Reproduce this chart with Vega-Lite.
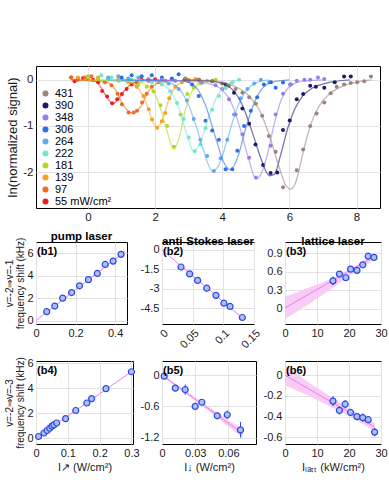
{
  "$schema": "https://vega.github.io/schema/vega-lite/v6.json",
  "padding": {"left": 3, "top": 65, "right": 2, "bottom": 5},
  "spacing": 7,
  "resolve": {"legend": {"color": "independent"}},
  "config": {
    "font": "Liberation Sans",
    "locale": {"number": {"decimal": ".", "thousands": ",", "grouping": [3], "currency": ["$", ""], "minus": "-"}},
    "view": {"stroke": "#000", "strokeWidth": 1},
    "axis": {"grid": true, "gridColor": "#e2e2e2", "domain": false, "ticks": false, "labelFontSize": 11, "labelColor": "#1a1a1a", "titleFontSize": 11, "titleFontWeight": "normal", "titleColor": "#1a1a1a", "labelPadding": 3, "titlePadding": 3, "labelOverlap": false, "labelFlush": false, "format": "~g"},
    "title": {"fontSize": 11.5, "fontWeight": "bold", "color": "#000", "offset": -5}
  },
  "datasets": {
    "pts": [
      {"p":"55","x":-0.5,"y":0.05},{"p":"55","x":-0.4,"y":-0.03},{"p":"55","x":-0.3,"y":0.02},{"p":"55","x":-0.15,"y":0.04},{"p":"55","x":0.0,"y":0.03},{"p":"55","x":0.15,"y":0.0},{"p":"55","x":0.3,"y":-0.05},{"p":"55","x":0.42,"y":-0.24},{"p":"55","x":0.57,"y":-0.36},{"p":"55","x":0.72,"y":-0.51},{"p":"55","x":0.87,"y":-0.42},{"p":"55","x":1.01,"y":-0.31},{"p":"55","x":1.15,"y":-0.2},{"p":"55","x":1.3,"y":-0.1},{"p":"55","x":1.45,"y":-0.05},{"p":"55","x":1.6,"y":0.0},{"p":"55","x":1.8,"y":-0.02},{"p":"55","x":2.0,"y":0.01},
      {"p":"97","x":-0.5,"y":0.05},{"p":"97","x":-0.3,"y":0.0},{"p":"97","x":-0.1,"y":0.05},{"p":"97","x":0.1,"y":0.08},{"p":"97","x":0.3,"y":0.03},{"p":"97","x":0.5,"y":-0.05},{"p":"97","x":0.7,"y":-0.12},{"p":"97","x":0.88,"y":-0.3},{"p":"97","x":1.01,"y":-0.53},{"p":"97","x":1.21,"y":-0.71},{"p":"97","x":1.36,"y":-0.71},{"p":"97","x":1.46,"y":-0.67},{"p":"97","x":1.61,"y":-0.49},{"p":"97","x":1.75,"y":-0.3},{"p":"97","x":1.9,"y":-0.15},{"p":"97","x":2.1,"y":-0.05},{"p":"97","x":2.3,"y":-0.02},{"p":"97","x":2.5,"y":0.0},
      {"p":"139","x":-0.3,"y":0.05},{"p":"139","x":0.0,"y":0.08},{"p":"139","x":0.3,"y":0.05},{"p":"139","x":0.6,"y":0.02},{"p":"139","x":0.9,"y":0.0},{"p":"139","x":1.2,"y":-0.05},{"p":"139","x":1.45,"y":-0.15},{"p":"139","x":1.65,"y":-0.35},{"p":"139","x":1.81,"y":-0.64},{"p":"139","x":1.91,"y":-0.86},{"p":"139","x":2.06,"y":-1.04},{"p":"139","x":2.2,"y":-0.9},{"p":"139","x":2.3,"y":-0.72},{"p":"139","x":2.42,"y":-0.4},{"p":"139","x":2.6,"y":-0.15},{"p":"139","x":2.8,"y":-0.05},{"p":"139","x":3.0,"y":0.0},{"p":"139","x":3.2,"y":0.02},
      {"p":"181","x":0.0,"y":0.05},{"p":"181","x":0.3,"y":0.02},{"p":"181","x":0.6,"y":0.0},{"p":"181","x":0.9,"y":-0.02},{"p":"181","x":1.2,"y":-0.05},{"p":"181","x":1.5,"y":-0.1},{"p":"181","x":1.75,"y":-0.15},{"p":"181","x":1.95,"y":-0.25},{"p":"181","x":2.16,"y":-0.55},{"p":"181","x":2.36,"y":-1.0},{"p":"181","x":2.56,"y":-1.45},{"p":"181","x":2.76,"y":-0.75},{"p":"181","x":2.96,"y":-0.31},{"p":"181","x":3.15,"y":-0.17},{"p":"181","x":3.35,"y":-0.08},{"p":"181","x":3.55,"y":-0.02},{"p":"181","x":3.8,"y":0.0},
      {"p":"222","x":0.4,"y":0.1},{"p":"222","x":0.7,"y":0.05},{"p":"222","x":1.0,"y":0.02},{"p":"222","x":1.3,"y":0.0},{"p":"222","x":1.6,"y":-0.02},{"p":"222","x":1.9,"y":-0.05},{"p":"222","x":2.2,"y":-0.1},{"p":"222","x":2.45,"y":-0.25},{"p":"222","x":2.65,"y":-0.5},{"p":"222","x":2.85,"y":-0.85},{"p":"222","x":3.0,"y":-1.25},{"p":"222","x":3.18,"y":-1.55},{"p":"222","x":3.35,"y":-1.4},{"p":"222","x":3.5,"y":-1.05},{"p":"222","x":3.7,"y":-0.65},{"p":"222","x":3.9,"y":-0.35},{"p":"222","x":4.1,"y":-0.18},{"p":"222","x":4.3,"y":-0.05},{"p":"222","x":4.5,"y":0.0},
      {"p":"264","x":0.6,"y":0.05},{"p":"264","x":0.9,"y":0.08},{"p":"264","x":1.2,"y":0.03},{"p":"264","x":1.5,"y":0.05},{"p":"264","x":1.8,"y":0.0},{"p":"264","x":2.1,"y":-0.03},{"p":"264","x":2.4,"y":-0.08},{"p":"264","x":2.7,"y":-0.2},{"p":"264","x":2.95,"y":-0.45},{"p":"264","x":3.15,"y":-0.85},{"p":"264","x":3.35,"y":-1.3},{"p":"264","x":3.55,"y":-1.65},{"p":"264","x":3.75,"y":-1.98},{"p":"264","x":3.95,"y":-1.7},{"p":"264","x":4.15,"y":-1.3},{"p":"264","x":4.35,"y":-0.75},{"p":"264","x":4.55,"y":-0.4},{"p":"264","x":4.75,"y":-0.2},{"p":"264","x":4.95,"y":-0.08},{"p":"264","x":5.15,"y":0.0},{"p":"264","x":5.4,"y":-0.05},
      {"p":"306","x":1.0,"y":0.05},{"p":"306","x":1.3,"y":0.1},{"p":"306","x":1.6,"y":0.08},{"p":"306","x":1.9,"y":0.1},{"p":"306","x":2.2,"y":0.05},{"p":"306","x":2.5,"y":0.03},{"p":"306","x":2.7,"y":0.12},{"p":"306","x":2.9,"y":0.0},{"p":"306","x":3.1,"y":-0.1},{"p":"306","x":3.3,"y":-0.35},{"p":"306","x":3.5,"y":-0.89},{"p":"306","x":3.7,"y":-1.1},{"p":"306","x":3.9,"y":-1.3},{"p":"306","x":4.1,"y":-1.94},{"p":"306","x":4.3,"y":-1.94},{"p":"306","x":4.45,"y":-1.54},{"p":"306","x":4.65,"y":-1.0},{"p":"306","x":4.85,"y":-0.67},{"p":"306","x":5.04,"y":-0.38},{"p":"306","x":5.24,"y":-0.1},{"p":"306","x":5.45,"y":-0.05},{"p":"306","x":5.59,"y":-0.17},{"p":"306","x":5.81,"y":-0.06},{"p":"306","x":6.04,"y":-0.1},
      {"p":"348","x":1.8,"y":0.02},{"p":"348","x":2.2,"y":0.0},{"p":"348","x":2.6,"y":-0.02},{"p":"348","x":3.0,"y":-0.03},{"p":"348","x":3.4,"y":-0.06},{"p":"348","x":3.8,"y":-0.12},{"p":"348","x":4.0,"y":-0.2},{"p":"348","x":4.2,"y":-0.42},{"p":"348","x":4.4,"y":-0.75},{"p":"348","x":4.6,"y":-1.18},{"p":"348","x":4.8,"y":-1.69},{"p":"348","x":5.0,"y":-2.12},{"p":"348","x":5.22,"y":-1.85},{"p":"348","x":5.44,"y":-1.43},{"p":"348","x":5.59,"y":-0.75},{"p":"348","x":5.81,"y":-0.3},{"p":"348","x":6.02,"y":-0.1},{"p":"348","x":6.22,"y":-0.02},{"p":"348","x":6.45,"y":0.0},{"p":"348","x":6.62,"y":0.0},{"p":"348","x":6.85,"y":0.05},{"p":"348","x":7.04,"y":0.02},
      {"p":"390","x":2.9,"y":0.02},{"p":"390","x":3.3,"y":0.0},{"p":"390","x":3.7,"y":-0.03},{"p":"390","x":4.1,"y":-0.1},{"p":"390","x":4.35,"y":-0.28},{"p":"390","x":4.6,"y":-0.62},{"p":"390","x":4.8,"y":-0.95},{"p":"390","x":4.99,"y":-1.4},{"p":"390","x":5.22,"y":-1.85},{"p":"390","x":5.44,"y":-2.02},{"p":"390","x":5.64,"y":-2.01},{"p":"390","x":5.81,"y":-1.09},{"p":"390","x":6.01,"y":-0.88},{"p":"390","x":6.22,"y":-0.42},{"p":"390","x":6.41,"y":-0.31},{"p":"390","x":6.62,"y":-0.13},{"p":"390","x":6.79,"y":-0.15},{"p":"390","x":7.04,"y":-0.17},{"p":"390","x":7.35,"y":-0.05},{"p":"390","x":7.63,"y":0.07},{"p":"390","x":7.83,"y":0.07},
      {"p":"431","x":2.9,"y":0.03},{"p":"431","x":3.3,"y":0.0},{"p":"431","x":3.7,"y":-0.03},{"p":"431","x":4.0,"y":-0.08},{"p":"431","x":4.2,"y":-0.13},{"p":"431","x":4.4,"y":-0.2},{"p":"431","x":4.6,"y":-0.28},{"p":"431","x":4.8,"y":-0.38},{"p":"431","x":5.0,"y":-0.52},{"p":"431","x":5.19,"y":-0.78},{"p":"431","x":5.39,"y":-1.22},{"p":"431","x":5.59,"y":-1.56},{"p":"431","x":5.81,"y":-2.33},{"p":"431","x":6.22,"y":-1.96},{"p":"431","x":6.41,"y":-1.51},{"p":"431","x":6.62,"y":-1.0},{"p":"431","x":6.81,"y":-0.73},{"p":"431","x":7.04,"y":-0.49},{"p":"431","x":7.23,"y":-0.29},{"p":"431","x":7.41,"y":-0.15},{"p":"431","x":7.63,"y":-0.1},{"p":"431","x":7.83,"y":-0.07},{"p":"431","x":8.02,"y":-0.05},{"p":"431","x":8.23,"y":-0.03},{"p":"431","x":8.43,"y":0.07}
    ],
    "fit": [
      {"p":"55","x":-0.5,"y":0},{"p":"55","x":0.2,"y":-0.03},{"p":"55","x":0.4,"y":-0.18},{"p":"55","x":0.6,"y":-0.42},{"p":"55","x":0.75,"y":-0.52},{"p":"55","x":0.9,"y":-0.42},{"p":"55","x":1.1,"y":-0.22},{"p":"55","x":1.35,"y":-0.07},{"p":"55","x":1.7,"y":0},{"p":"55","x":2.0,"y":0},
      {"p":"97","x":-0.5,"y":0},{"p":"97","x":0.5,"y":-0.04},{"p":"97","x":0.8,"y":-0.2},{"p":"97","x":1.05,"y":-0.55},{"p":"97","x":1.3,"y":-0.72},{"p":"97","x":1.55,"y":-0.6},{"p":"97","x":1.8,"y":-0.25},{"p":"97","x":2.1,"y":-0.06},{"p":"97","x":2.6,"y":0},
      {"p":"139","x":-0.3,"y":0},{"p":"139","x":1.0,"y":-0.02},{"p":"139","x":1.4,"y":-0.12},{"p":"139","x":1.7,"y":-0.45},{"p":"139","x":1.9,"y":-0.85},{"p":"139","x":2.05,"y":-1.03},{"p":"139","x":2.2,"y":-0.9},{"p":"139","x":2.4,"y":-0.45},{"p":"139","x":2.65,"y":-0.12},{"p":"139","x":3.0,"y":-0.02},{"p":"139","x":3.3,"y":0},
      {"p":"181","x":0.0,"y":0},{"p":"181","x":1.5,"y":-0.05},{"p":"181","x":1.9,"y":-0.2},{"p":"181","x":2.15,"y":-0.6},{"p":"181","x":2.35,"y":-1.1},{"p":"181","x":2.55,"y":-1.5},{"p":"181","x":2.7,"y":-1.3},{"p":"181","x":2.9,"y":-0.65},{"p":"181","x":3.1,"y":-0.25},{"p":"181","x":3.4,"y":-0.05},{"p":"181","x":3.8,"y":0},
      {"p":"222","x":0.4,"y":0},{"p":"222","x":2.0,"y":-0.04},{"p":"222","x":2.4,"y":-0.2},{"p":"222","x":2.7,"y":-0.6},{"p":"222","x":2.95,"y":-1.2},{"p":"222","x":3.15,"y":-1.55},{"p":"222","x":3.35,"y":-1.35},{"p":"222","x":3.6,"y":-0.8},{"p":"222","x":3.85,"y":-0.35},{"p":"222","x":4.1,"y":-0.12},{"p":"222","x":4.5,"y":0},
      {"p":"264","x":0.6,"y":0},{"p":"264","x":2.2,"y":-0.03},{"p":"264","x":2.6,"y":-0.12},{"p":"264","x":2.9,"y":-0.4},{"p":"264","x":3.2,"y":-0.95},{"p":"264","x":3.45,"y":-1.55},{"p":"264","x":3.7,"y":-1.98},{"p":"264","x":3.9,"y":-1.85},{"p":"264","x":4.15,"y":-1.3},{"p":"264","x":4.4,"y":-0.7},{"p":"264","x":4.7,"y":-0.25},{"p":"264","x":5.0,"y":-0.07},{"p":"264","x":5.4,"y":0},
      {"p":"306","x":1.0,"y":0},{"p":"306","x":2.8,"y":-0.02},{"p":"306","x":3.2,"y":-0.15},{"p":"306","x":3.5,"y":-0.55},{"p":"306","x":3.8,"y":-1.25},{"p":"306","x":4.05,"y":-1.8},{"p":"306","x":4.25,"y":-1.95},{"p":"306","x":4.45,"y":-1.7},{"p":"306","x":4.7,"y":-1.05},{"p":"306","x":4.95,"y":-0.5},{"p":"306","x":5.2,"y":-0.18},{"p":"306","x":5.5,"y":-0.05},{"p":"306","x":6.0,"y":0},
      {"p":"348","x":1.8,"y":0},{"p":"348","x":3.0,"y":-0.03},{"p":"348","x":3.6,"y":-0.08},{"p":"348","x":4.0,"y":-0.22},{"p":"348","x":4.3,"y":-0.55},{"p":"348","x":4.55,"y":-1.1},{"p":"348","x":4.8,"y":-1.75},{"p":"348","x":5.0,"y":-2.15},{"p":"348","x":5.15,"y":-2.05},{"p":"348","x":5.35,"y":-1.6},{"p":"348","x":5.55,"y":-0.95},{"p":"348","x":5.75,"y":-0.45},{"p":"348","x":6.0,"y":-0.15},{"p":"348","x":6.4,"y":-0.03},{"p":"348","x":7.0,"y":0},
      {"p":"390","x":2.8,"y":0},{"p":"390","x":3.6,"y":-0.02},{"p":"390","x":4.2,"y":-0.15},{"p":"390","x":4.6,"y":-0.55},{"p":"390","x":4.9,"y":-1.15},{"p":"390","x":5.15,"y":-1.7},{"p":"390","x":5.4,"y":-2.08},{"p":"390","x":5.55,"y":-2.05},{"p":"390","x":5.75,"y":-1.6},{"p":"390","x":5.95,"y":-1.05},{"p":"390","x":6.15,"y":-0.65},{"p":"390","x":6.4,"y":-0.35},{"p":"390","x":6.7,"y":-0.17},{"p":"390","x":7.1,"y":-0.07},{"p":"390","x":7.8,"y":0},
      {"p":"431","x":2.8,"y":0},{"p":"431","x":3.5,"y":-0.01},{"p":"431","x":4.0,"y":-0.05},{"p":"431","x":4.4,"y":-0.15},{"p":"431","x":4.8,"y":-0.35},{"p":"431","x":5.1,"y":-0.65},{"p":"431","x":5.4,"y":-1.2},{"p":"431","x":5.7,"y":-1.9},{"p":"431","x":5.9,"y":-2.3},{"p":"431","x":6.05,"y":-2.37},{"p":"431","x":6.2,"y":-2.2},{"p":"431","x":6.4,"y":-1.6},{"p":"431","x":6.6,"y":-1.05},{"p":"431","x":6.8,"y":-0.68},{"p":"431","x":7.0,"y":-0.45},{"p":"431","x":7.3,"y":-0.25},{"p":"431","x":7.6,"y":-0.13},{"p":"431","x":8.0,"y":-0.05},{"p":"431","x":8.45,"y":0}
    ]
  },
  "vconcat": [
    {
      "width": 344, "height": 142,
      "layer": [
        {
          "data": {"name": "pts"},
          "mark": {"type": "point", "shape": "circle", "filled": true, "size": 16, "opacity": 1},
          "encoding": {
            "x": {"field": "x", "type": "quantitative", "scale": {"domain": [-1.55, 8.7], "nice": false, "zero": false}, "axis": {"values": [0, 2, 4, 6, 8], "tickCount": 12, "title": null, "labelFontSize": 11.5}},
            "y": {"field": "y", "type": "quantitative", "scale": {"domain": [-2.78, 0.3], "nice": false, "zero": false}, "axis": {"values": [-2, -1, 0], "tickCount": 12, "title": "ln(normalized signal)", "titleFontSize": 13, "labelFontSize": 11.5, "titlePadding": 3}},
            "color": {"field": "p", "type": "nominal", "scale": {"domain": ["431","390","348","306","264","222","181","139","97","55"], "range": ["#9c837e","#1e1a6e","#9a7ee8","#2c6fe6","#5aacf2","#72e6cf","#b4d62a","#f5a020","#f26a22","#e8201e"]},
              "legend": {"title": null, "orient": "none", "legendX": 4, "legendY": 22, "labelFontSize": 11, "labelColor": "#000000", "symbolSize": 20, "symbolType": "circle", "rowPadding": 0, "labelOffset": 4, "labelExpr": "datum.label == '55' ? '55 mW/cm²' : datum.label"}}
          }
        },
        {
          "data": {"name": "fit"},
          "mark": {"type": "line", "strokeWidth": 1.3, "interpolate": "monotone", "opacity": 0.6},
          "encoding": {
            "x": {"field": "x", "type": "quantitative"},
            "y": {"field": "y", "type": "quantitative"},
            "color": {"field": "p", "type": "nominal"}
          }
        }
      ]
    },
    {
      "columns": 3,
      "spacing": {"row": 37, "column": 29},
      "bounds": "flush",
      "concat": [
        {
          "width": 91, "height": 82,
          "title": "pump laser",
          "layer": [
            {
              "data": {"values": [{"x": 0, "y": 0}, {"x": 0.45, "y": 6.17}]},
              "mark": {"type": "line", "color": "#ee7cee", "strokeWidth": 1},
              "encoding": {
                "x": {"field": "x", "type": "quantitative", "scale": {"domain": [0, 0.46], "nice": false}, "axis": {"values": [0, 0.2, 0.4], "tickCount": 12, "title": null}},
                "y": {"field": "y", "type": "quantitative", "scale": {"domain": [-0.3, 7], "nice": false}, "axis": {"values": [0, 2, 4, 6], "tickCount": 12, "title": ["v=-2⇒v=-1", "frequency shift (kHz)"], "titleFontSize": 10, "titleLineHeight": 11.5, "titlePadding": 1}}
              }
            },
            {
              "data": {"values": [{"x":0.054,"y":0.8},{"x":0.095,"y":1.3},{"x":0.135,"y":2.0},{"x":0.18,"y":2.5},{"x":0.22,"y":3.1},{"x":0.265,"y":3.65},{"x":0.31,"y":4.2},{"x":0.35,"y":5.0},{"x":0.39,"y":5.3},{"x":0.43,"y":5.9}]},
              "mark": {"type": "point", "shape": "circle", "size": 36, "fill": "#aebff5", "fillOpacity": 1, "stroke": "#2947e6", "strokeWidth": 1.2},
              "encoding": {"x": {"field": "x", "type": "quantitative"}, "y": {"field": "y", "type": "quantitative"}}
            },
            {
              "data": {"values": [{"t": "(b1)"}]},
              "mark": {"type": "text", "align": "left", "baseline": "top", "dx": 1, "dy": 4, "fontWeight": "bold", "fontSize": 11},
              "encoding": {"x": {"datum": 0}, "y": {"datum": 7}, "text": {"field": "t"}}
            }
          ]
        },
        {
          "width": 92, "height": 82,
          "title": "anti-Stokes laser",
          "layer": [
            {
              "data": {"values": [{"x": 0, "y": 0}, {"x": 0.134, "y": -5.35}]},
              "mark": {"type": "line", "color": "#ee7cee", "strokeWidth": 1},
              "encoding": {
                "x": {"field": "x", "type": "quantitative", "scale": {"domain": [0, 0.15], "nice": false}, "axis": {"values": [0, 0.05, 0.1, 0.15], "tickCount": 12, "title": null, "labelAngle": -45}},
                "y": {"field": "y", "type": "quantitative", "scale": {"domain": [-5.7, 0.6], "nice": false}, "axis": {"values": [-4.5, -3, -1.5, 0], "tickCount": 12, "title": null}}
              }
            },
            {
              "data": {"values": [{"x":0.031,"y":-1.32},{"x":0.045,"y":-1.85},{"x":0.058,"y":-2.35},{"x":0.073,"y":-2.95},{"x":0.088,"y":-3.5},{"x":0.101,"y":-4.1},{"x":0.111,"y":-4.35},{"x":0.131,"y":-5.2}]},
              "mark": {"type": "point", "shape": "circle", "size": 36, "fill": "#aebff5", "fillOpacity": 1, "stroke": "#2947e6", "strokeWidth": 1.2},
              "encoding": {"x": {"field": "x", "type": "quantitative"}, "y": {"field": "y", "type": "quantitative"}}
            },
            {
              "data": {"values": [{"t": "(b2)"}]},
              "mark": {"type": "text", "align": "left", "baseline": "top", "dx": 1, "dy": 4, "fontWeight": "bold", "fontSize": 11},
              "encoding": {"x": {"datum": 0}, "y": {"datum": 0.6}, "text": {"field": "t"}}
            }
          ]
        },
        {
          "width": 96, "height": 82,
          "title": "lattice laser",
          "layer": [
            {
              "data": {"values": [{"x": 0, "lo": -0.17, "hi": 0.19}, {"x": 7, "lo": 0.06, "hi": 0.33}, {"x": 14, "lo": 0.3, "hi": 0.47}, {"x": 21, "lo": 0.56, "hi": 0.66}, {"x": 28, "lo": 0.8, "hi": 0.9}]},
              "mark": {"type": "area", "color": "#f7c6f3", "opacity": 0.9},
              "encoding": {
                "x": {"field": "x", "type": "quantitative", "scale": {"domain": [0, 30], "nice": false}, "axis": {"values": [0, 10, 20, 30], "tickCount": 12, "title": null}},
                "y": {"field": "lo", "type": "quantitative", "scale": {"domain": [-0.25, 1.08], "nice": false}, "axis": {"values": [0, 0.3, 0.6, 0.9], "tickCount": 12, "title": null}},
                "y2": {"field": "hi"}
              }
            },
            {
              "data": {"values": [{"x": 0, "y": 0.01}, {"x": 28, "y": 0.85}]},
              "mark": {"type": "line", "color": "#ee7cee", "strokeWidth": 1},
              "encoding": {"x": {"field": "x", "type": "quantitative"}, "y": {"field": "y", "type": "quantitative"}}
            },
            {
              "data": {"values": [{"x":15,"y":0.45,"lo":0.38,"hi":0.52},{"x":17,"y":0.56,"lo":0.53,"hi":0.59},{"x":19,"y":0.5,"lo":0.47,"hi":0.53},{"x":20.5,"y":0.64,"lo":0.61,"hi":0.67},{"x":22.5,"y":0.62,"lo":0.59,"hi":0.65},{"x":24.3,"y":0.71,"lo":0.68,"hi":0.74},{"x":26,"y":0.85,"lo":0.82,"hi":0.88},{"x":27.8,"y":0.83,"lo":0.8,"hi":0.86}]},
              "layer": [
                {"mark": {"type": "rule", "color": "#2947e6", "strokeWidth": 1}, "encoding": {"x": {"field": "x", "type": "quantitative"}, "y": {"field": "lo", "type": "quantitative"}, "y2": {"field": "hi"}}},
                {"mark": {"type": "point", "shape": "circle", "size": 36, "fill": "#aebff5", "fillOpacity": 1, "stroke": "#2947e6", "strokeWidth": 1.2}, "encoding": {"x": {"field": "x", "type": "quantitative"}, "y": {"field": "y", "type": "quantitative"}}}
              ]
            },
            {
              "data": {"values": [{"t": "(b3)"}]},
              "mark": {"type": "text", "align": "left", "baseline": "top", "dx": 1, "dy": 4, "fontWeight": "bold", "fontSize": 11},
              "encoding": {"x": {"datum": 0}, "y": {"datum": 1.08}, "text": {"field": "t"}}
            }
          ]
        },
        {
          "width": 97, "height": 83,
          "layer": [
            {
              "data": {"values": [{"x": 0, "y": 0}, {"x": 0.3, "y": 5.3}]},
              "mark": {"type": "line", "color": "#ee7cee", "strokeWidth": 1},
              "encoding": {
                "x": {"field": "x", "type": "quantitative", "scale": {"domain": [0, 0.305], "nice": false}, "axis": {"values": [0, 0.1, 0.2, 0.3], "tickCount": 12, "title": "I↗ (W/cm²)"}},
                "y": {"field": "y", "type": "quantitative", "scale": {"domain": [-0.48, 6.16], "nice": false}, "axis": {"values": [0, 2, 4, 6], "tickCount": 12, "title": ["v=-2⇒v=-3", "frequency shift (kHz)"], "titleFontSize": 10, "titleLineHeight": 11.5, "titlePadding": 1}}
              }
            },
            {
              "data": {"values": [{"x":0.008,"y":0.12},{"x":0.025,"y":0.4},{"x":0.035,"y":0.6},{"x":0.043,"y":0.78},{"x":0.05,"y":0.95},{"x":0.056,"y":1.05},{"x":0.065,"y":1.2},{"x":0.093,"y":1.55},{"x":0.125,"y":2.2},{"x":0.16,"y":2.8},{"x":0.175,"y":3.15},{"x":0.22,"y":3.95},{"x":0.3,"y":5.3}]},
              "mark": {"type": "point", "shape": "circle", "size": 36, "fill": "#aebff5", "fillOpacity": 1, "stroke": "#2947e6", "strokeWidth": 1.2},
              "encoding": {"x": {"field": "x", "type": "quantitative"}, "y": {"field": "y", "type": "quantitative"}}
            },
            {
              "data": {"values": [{"t": "(b4)"}]},
              "mark": {"type": "text", "align": "left", "baseline": "top", "dx": 1, "dy": 4, "fontWeight": "bold", "fontSize": 11},
              "encoding": {"x": {"datum": 0}, "y": {"datum": 6.16}, "text": {"field": "t"}}
            }
          ]
        },
        {
          "width": 94, "height": 83,
          "layer": [
            {
              "data": {"values": [{"x": 0, "lo": -0.02, "hi": 0.02}, {"x": 0.035, "lo": -0.57, "hi": -0.5}, {"x": 0.073, "lo": -1.2, "hi": -1.04}]},
              "mark": {"type": "area", "color": "#f7c6f3", "opacity": 0.9},
              "encoding": {
                "x": {"field": "x", "type": "quantitative", "scale": {"domain": [0, 0.085], "nice": false}, "axis": {"values": [0, 0.03, 0.06], "tickCount": 12, "title": "I↓ (W/cm²)"}},
                "y": {"field": "lo", "type": "quantitative", "scale": {"domain": [-1.32, 0.27], "nice": false}, "axis": {"values": [-1.2, -0.6, 0], "tickCount": 12, "title": null}},
                "y2": {"field": "hi"}
              }
            },
            {
              "data": {"values": [{"x": 0, "y": 0}, {"x": 0.073, "y": -1.12}]},
              "mark": {"type": "line", "color": "#ee7cee", "strokeWidth": 1},
              "encoding": {"x": {"field": "x", "type": "quantitative"}, "y": {"field": "y", "type": "quantitative"}}
            },
            {
              "data": {"values": [{"x":0.002,"y":-0.02,"lo":-0.05,"hi":0.01},{"x":0.012,"y":-0.25,"lo":-0.28,"hi":-0.22},{"x":0.021,"y":-0.28,"lo":-0.38,"hi":-0.18},{"x":0.03,"y":-0.6,"lo":-0.66,"hi":-0.54},{"x":0.036,"y":-0.52,"lo":-0.56,"hi":-0.48},{"x":0.05,"y":-0.78,"lo":-0.81,"hi":-0.75},{"x":0.059,"y":-0.76,"lo":-0.84,"hi":-0.68},{"x":0.071,"y":-1.05,"lo":-1.2,"hi":-0.9}]},
              "layer": [
                {"mark": {"type": "rule", "color": "#2947e6", "strokeWidth": 1}, "encoding": {"x": {"field": "x", "type": "quantitative"}, "y": {"field": "lo", "type": "quantitative"}, "y2": {"field": "hi"}}},
                {"mark": {"type": "point", "shape": "circle", "size": 36, "fill": "#aebff5", "fillOpacity": 1, "stroke": "#2947e6", "strokeWidth": 1.2}, "encoding": {"x": {"field": "x", "type": "quantitative"}, "y": {"field": "y", "type": "quantitative"}}}
              ]
            },
            {
              "data": {"values": [{"t": "(b5)"}]},
              "mark": {"type": "text", "align": "left", "baseline": "top", "dx": 1, "dy": 4, "fontWeight": "bold", "fontSize": 11},
              "encoding": {"x": {"datum": 0}, "y": {"datum": 0.27}, "text": {"field": "t"}}
            }
          ]
        },
        {
          "width": 96, "height": 83,
          "layer": [
            {
              "data": {"values": [{"x": 0, "lo": -0.1, "hi": 0.1}, {"x": 7, "lo": -0.19, "hi": -0.06}, {"x": 14, "lo": -0.3, "hi": -0.2}, {"x": 21, "lo": -0.41, "hi": -0.34}, {"x": 28, "lo": -0.54, "hi": -0.46}]},
              "mark": {"type": "area", "color": "#f7c6f3", "opacity": 0.9},
              "encoding": {
                "x": {"field": "x", "type": "quantitative", "scale": {"domain": [0, 30], "nice": false}, "axis": {"values": [0, 10, 20, 30], "tickCount": 12, "title": "Iₗₐₜₜ (kW/cm²)"}},
                "y": {"field": "lo", "type": "quantitative", "scale": {"domain": [-0.665, 0.138], "nice": false}, "axis": {"values": [-0.6, -0.4, -0.2, 0], "tickCount": 12, "title": null}},
                "y2": {"field": "hi"}
              }
            },
            {
              "data": {"values": [{"x": 0, "y": 0}, {"x": 28, "y": -0.5}]},
              "mark": {"type": "line", "color": "#ee7cee", "strokeWidth": 1},
              "encoding": {"x": {"field": "x", "type": "quantitative"}, "y": {"field": "y", "type": "quantitative"}}
            },
            {
              "data": {"values": [{"x":15,"y":-0.25,"lo":-0.3,"hi":-0.2},{"x":17,"y":-0.34,"lo":-0.38,"hi":-0.3},{"x":18.8,"y":-0.28,"lo":-0.32,"hi":-0.24},{"x":20.5,"y":-0.36,"lo":-0.38,"hi":-0.34},{"x":22.5,"y":-0.4,"lo":-0.42,"hi":-0.38},{"x":24.3,"y":-0.41,"lo":-0.45,"hi":-0.37},{"x":26,"y":-0.43,"lo":-0.45,"hi":-0.41},{"x":28,"y":-0.55,"lo":-0.59,"hi":-0.51}]},
              "layer": [
                {"mark": {"type": "rule", "color": "#2947e6", "strokeWidth": 1}, "encoding": {"x": {"field": "x", "type": "quantitative"}, "y": {"field": "lo", "type": "quantitative"}, "y2": {"field": "hi"}}},
                {"mark": {"type": "point", "shape": "circle", "size": 36, "fill": "#aebff5", "fillOpacity": 1, "stroke": "#2947e6", "strokeWidth": 1.2}, "encoding": {"x": {"field": "x", "type": "quantitative"}, "y": {"field": "y", "type": "quantitative"}}}
              ]
            },
            {
              "data": {"values": [{"t": "(b6)"}]},
              "mark": {"type": "text", "align": "left", "baseline": "top", "dx": 1, "dy": 4, "fontWeight": "bold", "fontSize": 11},
              "encoding": {"x": {"datum": 0}, "y": {"datum": 0.138}, "text": {"field": "t"}}
            }
          ]
        }
      ]
    }
  ]
}
